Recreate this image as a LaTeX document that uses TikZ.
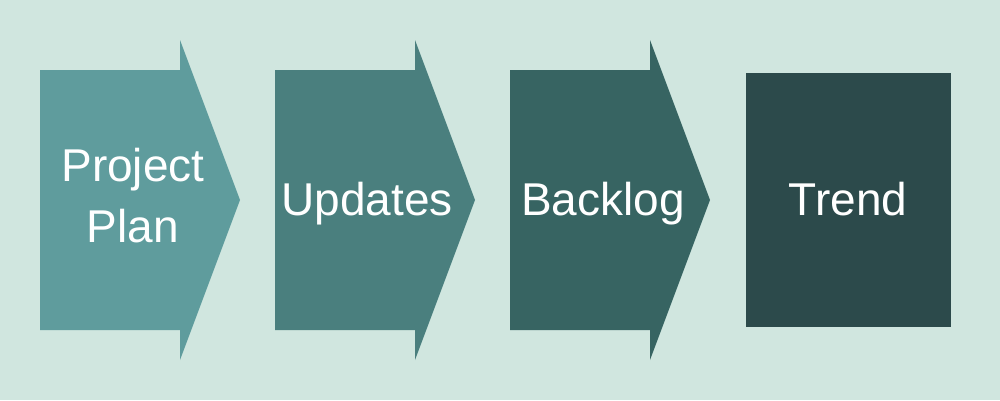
\documentclass[tikz,border=0pt]{standalone}
\usepackage{fontspec}
\setmainfont{Liberation Sans}
\definecolor{bgc}{HTML}{D0E6DF}
\definecolor{c1}{HTML}{5F9C9D}
\definecolor{c2}{HTML}{4A7F7E}
\definecolor{c3}{HTML}{376462}
\definecolor{c4}{HTML}{2C4A4B}
\tikzset{
  lbl/.style={text=white, font=\fontsize{46}{61}\selectfont, align=center, inner sep=0pt},
}
\newcommand{\chevshape}[2]{% #1 = left x, #2 = colour
  \fill[#2] (#1,70) -- ({#1+140},70) -- ({#1+140},40) -- ({#1+200},200) -- ({#1+140},360) -- ({#1+140},330) -- (#1,330) -- cycle;}
\begin{document}
\begin{tikzpicture}[x=1pt,y=-1pt]
\fill[bgc] (0,0) rectangle (1000,400);
\useasboundingbox (0,0) rectangle (1000,400);
\chevshape{40}{c1}
\chevshape{275}{c2}
\chevshape{510}{c3}
\fill[c4] (746,73) rectangle (951,327);
\node[lbl] (t1) at (133,196) {Project\\Plan};
\node[lbl, anchor=base] (t2) at (367,215) {Updates};
\node[lbl, anchor=base] (t3) at (603,215) {Backlog};
\node[lbl, anchor=base] (t4) at (848,215) {Trend};
\end{tikzpicture}
\end{document}
